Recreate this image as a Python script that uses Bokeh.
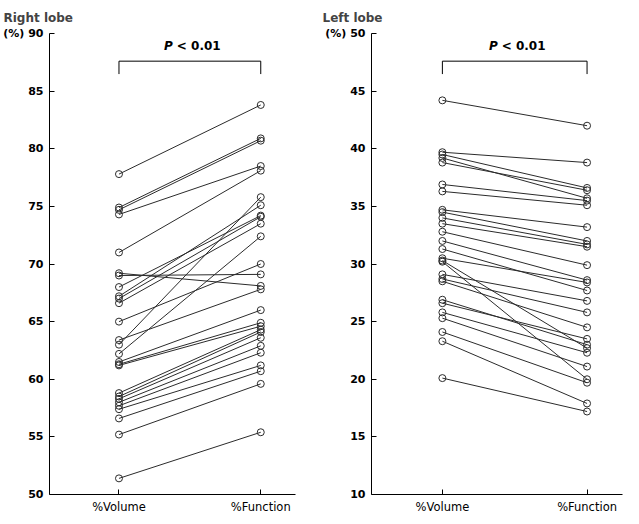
from bokeh.plotting import figure
from bokeh.layouts import row
from bokeh.models import Range1d, FixedTicker
from bokeh.core.properties import value
from bokeh.embed import file_html
from bokeh.resources import INLINE

categories = ["%Volume", "%Function"]

# Right lobe (left panel): paired %Volume -> %Function
right_volume = [77.8, 74.9, 74.7, 74.3, 71.0, 69.2, 69.0, 68.0, 67.2, 67.0, 66.6, 65.0, 63.4, 63.0,
                62.2, 61.5, 61.3, 61.2, 58.8, 58.5, 58.3, 58.0, 57.7, 57.4, 56.6, 55.2, 51.4]
right_function = [83.8, 80.9, 80.7, 78.5, 78.1, 68.1, 69.1, 74.2, 75.1, 74.1, 73.5, 70.0, 67.8, 75.8,
                  72.4, 66.0, 64.9, 64.6, 64.3, 64.1, 63.6, 62.9, 62.3, 61.2, 60.7, 59.6, 55.4]

# Left lobe (right panel)
left_volume = [44.2, 39.7, 39.5, 39.2, 38.8, 36.9, 36.3, 34.7, 34.5, 34.0, 33.5, 32.8, 32.0, 31.3,
               30.5, 30.3, 30.2, 29.1, 28.7, 28.5, 26.9, 26.6, 25.8, 25.3, 24.1, 23.3, 20.1]
left_function = [42.0, 38.8, 36.6, 35.7, 36.4, 35.5, 35.1, 33.2, 32.0, 31.7, 31.5, 29.9, 28.6, 27.7,
                 28.4, 22.7, 20.0, 26.8, 25.8, 24.5, 23.0, 23.5, 22.3, 21.1, 19.7, 17.9, 17.2]

right_ticks = [50, 55, 60, 65, 70, 75, 80, 85, 90]
left_ticks = [10, 15, 20, 25, 30, 35, 40, 45, 50]

FONT = "DejaVu Sans"
LINE = "#2b2b2b"


def panel(title, vol, func, yticks, width, border_left, border_right, title_offset):
    ymin, ymax = yticks[0], yticks[-1]
    p = figure(width=width, height=516, output_backend="svg", toolbar_location=None,
               x_range=Range1d(-0.49, 1.245), y_range=Range1d(ymin, ymax),
               min_border_left=border_left, min_border_right=border_right,
               min_border_top=4, min_border_bottom=0)
    p.title.text = title
    p.title.text_font = FONT
    p.title.text_font_size = "12px"
    p.title.text_font_style = "bold"
    p.title.align = "left"
    p.title.offset = title_offset
    p.title.standoff = 17
    p.outline_line_color = None
    p.grid.visible = False
    p.background_fill_color = "white"

    p.xaxis.ticker = FixedTicker(ticks=[0, 1])
    p.xaxis.major_label_overrides = {0: categories[0], 1: categories[1]}
    p.yaxis.ticker = FixedTicker(ticks=yticks)
    p.yaxis.major_label_overrides = {ymax: "(%) " + str(ymax)}
    for ax in (p.xaxis[0], p.yaxis[0]):
        ax.major_tick_in = 5
        ax.major_tick_out = 0
        ax.minor_tick_line_color = None
        ax.axis_line_color = "black"
        ax.major_tick_line_color = "black"
        ax.major_label_text_font = FONT
        ax.major_label_text_color = "black"
    p.xaxis.major_label_text_font_size = "11.5px"
    p.yaxis.major_label_text_font_size = "11px"
    p.yaxis.major_label_text_font_style = "bold"
    p.yaxis.major_label_standoff = 6
    p.xaxis.major_label_standoff = 5

    for v, f in zip(vol, func):
        p.line([0, 1], [v, f], line_color=LINE, line_width=1)
    n = len(vol)
    p.scatter([0] * n, vol, size=7, marker="circle", fill_color=None,
              line_color=LINE, line_width=1)
    p.scatter([1] * n, func, size=7, marker="circle", fill_color=None,
              line_color=LINE, line_width=1)

    # significance bracket
    span = ymax - ymin
    top = ymax - span * 0.06
    bot = ymax - span * 0.088
    p.line([0, 0, 1, 1], [bot, top, top, bot], line_color="black", line_width=1)
    ty = ymax - span * 0.028
    p.text([0.5], [ty], text=["P"], text_font=value(FONT), text_font_size="12px",
           text_font_style="bold italic", text_align="right", text_baseline="middle",
           x_offset=-17, text_color="black")
    p.text([0.5], [ty], text=["< 0.01"], text_font=value(FONT), text_font_size="12px",
           text_font_style="bold", text_align="left", text_baseline="middle",
           x_offset=-13, text_color="black")
    return p


p1 = panel("Right lobe", right_volume, right_function, right_ticks, 310, 46, 15, -46)
p2 = panel("Left lobe", left_volume, left_function, left_ticks, 320, 61, 8, -49)
layout = row(p1, p2)

open("out.html", "w").write(file_html(layout, INLINE))
